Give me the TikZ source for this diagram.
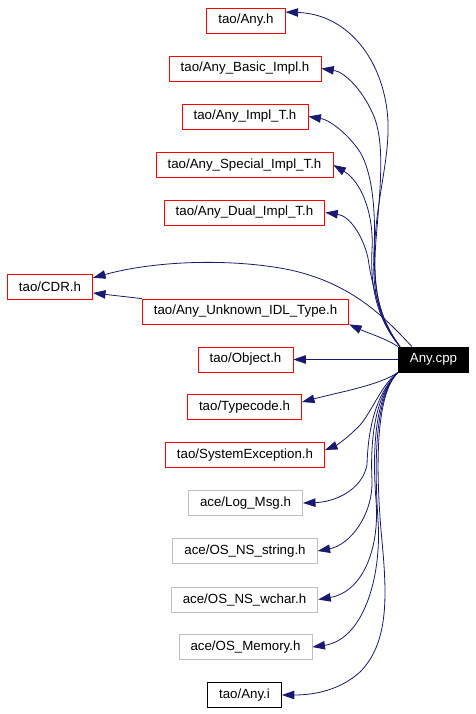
\documentclass[tikz,border=0pt]{standalone}
\usepackage{fontspec}
\setmainfont{Liberation Sans}
\usetikzlibrary{arrows.meta}
\definecolor{edgecol}{HTML}{191970}
\definecolor{redbox}{HTML}{FF0000}
\definecolor{graybox}{HTML}{BFBFBF}
\tikzset{
  filebox/.style={draw, line width=0.8pt, rectangle, minimum height=25pt, inner xsep=11.6pt, inner ysep=0pt, font=\fontsize{13.3}{16}\selectfont, text=black},
  redfile/.style={filebox, draw=redbox},
  grayfile/.style={filebox, draw=graybox},
  blackfile/.style={filebox, draw=black},
  mainfile/.style={filebox, draw=black, fill=black, text=white},
  edge/.style={draw=edgecol, line width=0.8pt, -{Triangle[length=12.5pt,width=8.5pt]}, fill=none}
}
\begin{document}
\begin{tikzpicture}[x=1pt,y=-1pt]
\useasboundingbox (0,0) rectangle (476,714);
\node[redfile] (anyh) at (246,20.5) {tao/Any.h};
\node[redfile] (basic) at (245,68.5) {tao/Any\_Basic\_Impl.h};
\node[redfile] (implt) at (245,116.5) {tao/Any\_Impl\_T.h};
\node[redfile] (special) at (244.5,165) {tao/Any\_Special\_Impl\_T.h};
\node[redfile] (dual) at (244.5,212.5) {tao/Any\_Dual\_Impl\_T.h};
\node[redfile] (cdr) at (50,287) {tao/CDR.h};
\node[redfile] (unk) at (245.5,311.5) {tao/Any\_Unknown\_IDL\_Type.h};
\node[redfile] (obj) at (245.5,359.5) {tao/Object.h};
\node[mainfile] (cpp) at (433.5,359.5) {Any.cpp};
\node[redfile] (tc) at (244.5,407) {tao/Typecode.h};
\node[redfile] (sysexc) at (245,455) {tao/SystemException.h};
\node[grayfile] (logm) at (245.5,503) {ace/Log\_Msg.h};
\node[grayfile] (nsstr) at (245,551) {ace/OS\_NS\_string.h};
\node[grayfile] (wchar) at (244.5,599.5) {ace/OS\_NS\_wchar.h};
\node[grayfile] (mem) at (245.5,647) {ace/OS\_Memory.h};
\node[blackfile] (anyi) at (244.5,695) {tao/Any.i};

% upper edges
\draw[edge] ([xshift=2pt]cpp.north west) .. controls (380,320) and (372,290) .. (375,240)
  .. controls (378,190) and (392,150) .. (387,110) .. controls (380,55) and (345,14) .. (anyh.12);
\draw[edge] ([xshift=2pt]cpp.north west) .. controls (380,320) and (372,290) .. (376,240)
  .. controls (380,190) and (386,140) .. (372,112) .. controls (362,90) and (345,72) .. (basic.east);
\draw[edge] ([xshift=2pt]cpp.north west) .. controls (378,320) and (372,290) .. (374,250)
  .. controls (376,210) and (372,172) .. (360,152) .. controls (348,134) and (330,120) .. (implt.east);
\draw[edge] ([xshift=2pt]cpp.north west) .. controls (378,320) and (370,290) .. (372,250)
  .. controls (374,215) and (362,182) .. (special.east);
\draw[edge] ([xshift=2pt]cpp.north west) .. controls (380,320) and (372,285) .. (368,258)
  .. controls (363,236) and (350,216) .. (dual.east);
\draw[edge] ([xshift=14pt]cpp.north west) .. controls (385,318) and (350,280) .. (280,268)
  .. controls (220,258) and (150,262) .. (cdr.12);
\draw[edge] (unk.north west) -- ([yshift=-6pt]cdr.east);
\draw[edge] (cpp.north west) .. controls (385,338) and (370,334) .. (unk.south east);
\draw[edge] (cpp) -- (obj);

% lower edges
\draw[edge] (cpp.south west) .. controls (380,385) and (340,392) .. ([yshift=5pt]tc.east);
\draw[edge] (cpp.south west) .. controls (380,385) and (370,418) .. (355,430)
  .. controls (345,440) and (335,446) .. ([yshift=5pt]sysexc.east);
\draw[edge] (cpp.south west) .. controls (375,395) and (368,430) .. (367,465)
  .. controls (362,490) and (335,502) .. (logm.east);
\draw[edge] (cpp.south west) .. controls (375,395) and (370,440) .. (372,480)
  .. controls (373,515) and (350,545) .. (nsstr.east);
\draw[edge] (cpp.south west) .. controls (375,395) and (372,450) .. (376,500)
  .. controls (380,550) and (362,592) .. (wchar.east);
\draw[edge] (cpp.south west) .. controls (375,395) and (374,460) .. (378,520)
  .. controls (382,580) and (362,640) .. (mem.east);
\draw[edge] (cpp.south west) .. controls (375,395) and (376,470) .. (381,530)
  .. controls (386,585) and (392,640) .. (360,672) .. controls (340,690) and (315,695) .. (anyi.east);
\end{tikzpicture}
\end{document}
